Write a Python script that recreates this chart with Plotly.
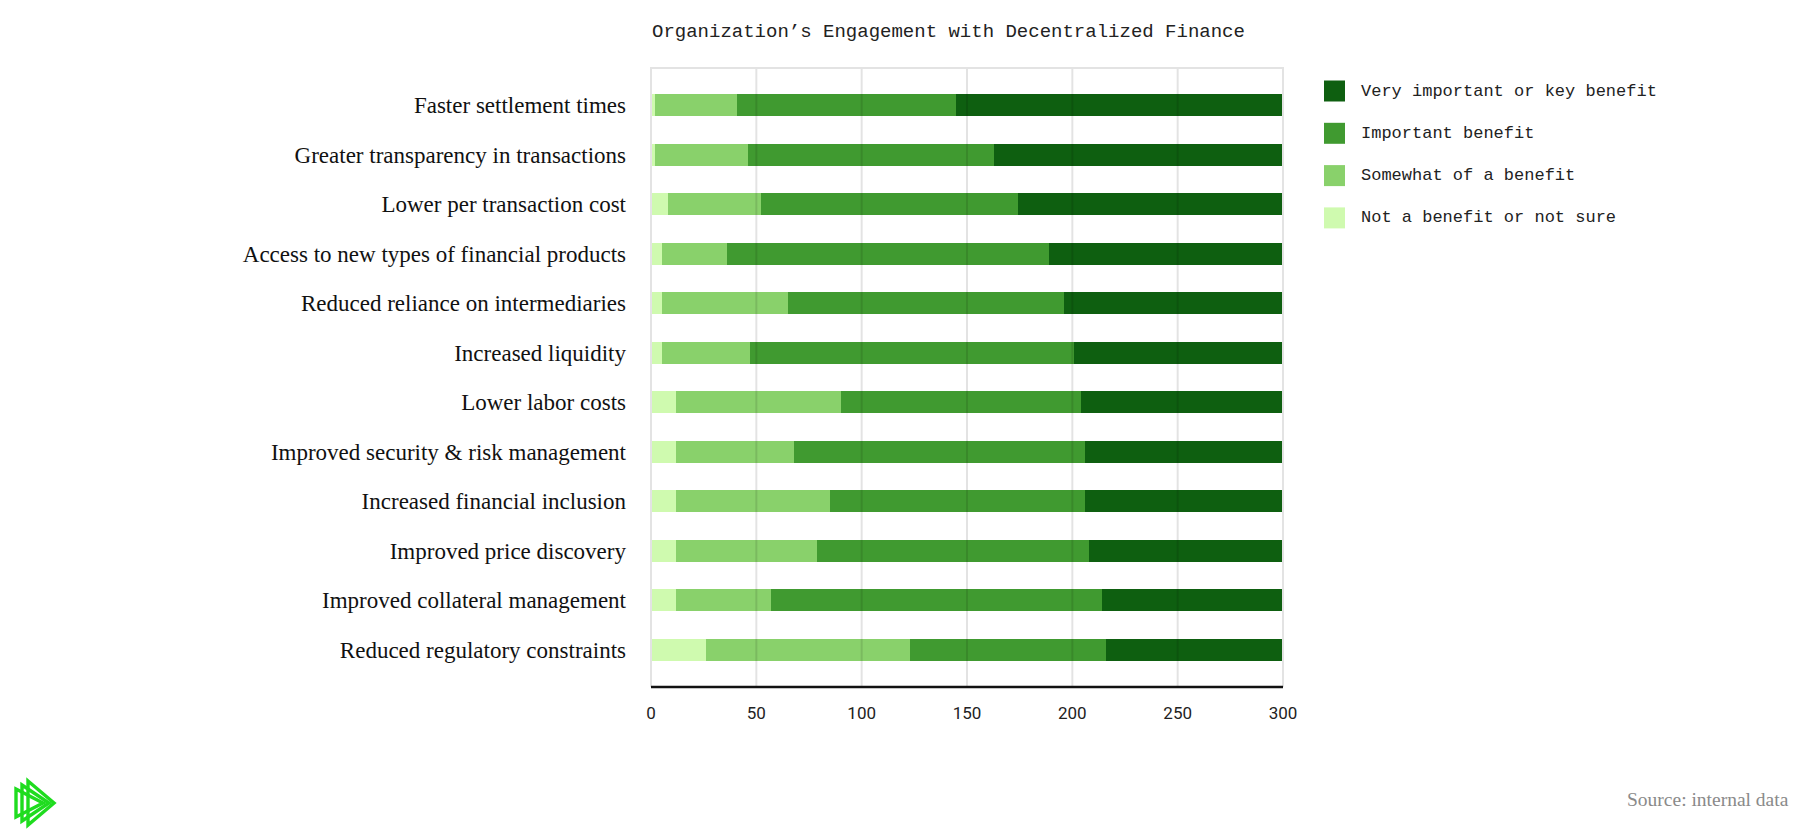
import plotly.graph_objects as go

categories = [
    "Faster settlement times",
    "Greater transparency in transactions",
    "Lower per transaction cost",
    "Access to new types of financial products",
    "Reduced reliance on intermediaries",
    "Increased liquidity",
    "Lower labor costs",
    "Improved security & risk management",
    "Increased financial inclusion",
    "Improved price discovery",
    "Improved collateral management",
    "Reduced regulatory constraints",
]

not_benefit = [2, 2, 8, 5, 5, 5, 12, 12, 12, 12, 12, 26]
somewhat = [39, 44, 44, 31, 60, 42, 78, 56, 73, 67, 45, 97]
important = [104, 117, 122, 153, 131, 154, 114, 138, 121, 129, 157, 93]
very_important = [155, 137, 126, 111, 104, 99, 96, 94, 94, 92, 86, 84]

series_names = [
    "Not a benefit or not sure",
    "Somewhat of a benefit",
    "Important benefit",
    "Very important or key benefit",
]
series_values = [not_benefit, somewhat, important, very_important]
series_colors = ["#cffaaf", "#89d16b", "#409a30", "#0e5f10"]

x_ticks = [0, 50, 100, 150, 200, 250, 300]

W, H = 1803, 838
L, R, T, B = 643, 1275, 60, 679


def px(x):
    return (x - L) / (R - L)


def py(y):
    return (B - y) / (B - T)


fig = go.Figure()
for name, vals, col in zip(series_names, series_values, series_colors):
    fig.add_trace(go.Bar(
        y=categories, x=vals, name=name, orientation="h",
        marker=dict(color=col, line=dict(width=0)),
        showlegend=False,
    ))

shapes = []
# gridlines above bars
for t in x_ticks[1:-1]:
    shapes.append(dict(type="line", xref="x", yref="paper", x0=t, x1=t, y0=0, y1=1,
                       line=dict(color="rgba(0,0,0,0.11)", width=2), layer="above"))
# frame (top, left, right)
shapes.append(dict(type="path", xref="paper", yref="paper",
                   path="M 0,0 L 0,1 L 1,1 L 1,0",
                   line=dict(color="#e3e3e3", width=2), layer="above"))
# bottom axis line
shapes.append(dict(type="line", xref="paper", yref="paper", x0=0, x1=1, y0=0, y1=0,
                   line=dict(color="#111111", width=2.5), layer="above"))

annotations = []
# custom legend (top item = last series)
legend_order = list(zip(series_names, series_colors))[::-1]
for i, (name, col) in enumerate(legend_order):
    cy = 83 + i * 42.3
    shapes.append(dict(type="rect", xref="paper", yref="paper",
                       x0=px(1316), x1=px(1337), y0=py(cy - 10.5), y1=py(cy + 10.5),
                       fillcolor=col, line=dict(width=0)))
    annotations.append(dict(text=name, xref="paper", yref="paper", x=px(1351), y=py(cy),
                            xanchor="left", yanchor="middle", showarrow=False,
                            font=dict(family="Liberation Mono", size=17, color="#222222")))

# source note
annotations.append(dict(text="Source: internal data", xref="paper", yref="paper",
                        x=px(1783), y=py(791), xanchor="right", yanchor="middle",
                        showarrow=False,
                        font=dict(family="Liberation Serif", size=19.5, color="#8a8a8a")))

# logo: three offset play-triangles
logo_green = "#1fdc1f"
for x0, ytop, ybot, xapex in [(8, 781, 809, 35), (14, 777, 813, 41), (20, 773, 817, 46)]:
    ymid = (ytop + ybot) / 2
    path = (f"M {px(x0)},{py(ytop)} L {px(xapex)},{py(ymid)} "
            f"L {px(x0)},{py(ybot)} Z")
    shapes.append(dict(type="path", xref="paper", yref="paper", path=path,
                       line=dict(color=logo_green, width=3.4), fillcolor="rgba(0,0,0,0)"))

fig.update_layout(
    width=W, height=H,
    barmode="stack",
    bargap=0.55,
    paper_bgcolor="white",
    plot_bgcolor="white",
    margin=dict(l=L, r=W - R, t=T, b=H - B, autoexpand=False),
    title=dict(text="Organization\u2019s Engagement with Decentralized Finance",
               x=px(644), xanchor="left", xref="paper", y=1 - 22 / H, yanchor="middle",
               font=dict(family="Liberation Mono", size=19, color="#222222")),
    xaxis=dict(range=[0, 300], tickvals=x_ticks, ticktext=[str(t) for t in x_ticks],
               showgrid=False, zeroline=False, showline=False, ticks="",
               tickfont=dict(family="Roboto", size=17, color="#222222"),
               ticklabelstandoff=14, fixedrange=True),
    yaxis=dict(categoryorder="array", categoryarray=categories,
               range=[11.75, -0.75], showgrid=False, zeroline=False, showline=False,
               ticks="", ticklabelstandoff=24,
               tickfont=dict(family="Liberation Serif", size=23, color="#111111"),
               fixedrange=True),
    shapes=shapes,
    annotations=annotations,
    showlegend=False,
)

fig.write_html("out.html")
